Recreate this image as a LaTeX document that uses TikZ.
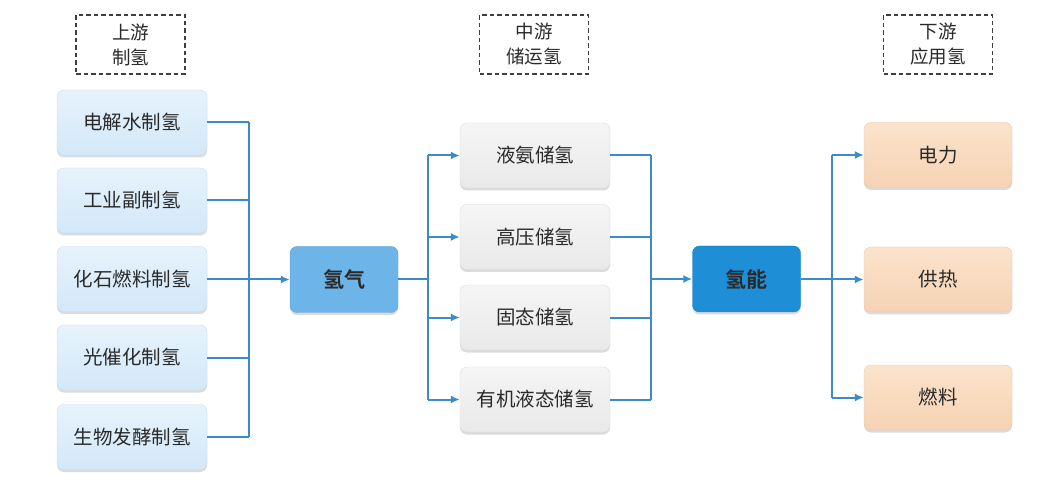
\documentclass[tikz,border=0pt]{standalone}
\usepackage{fontspec}
\setmainfont{Noto Sans CJK SC}
\newfontfamily\cjkbold{Noto Sans CJK SC Bold}
\usetikzlibrary{shadows,arrows.meta}
\definecolor{lineblue}{HTML}{3B8BC9}
\definecolor{txt}{HTML}{2A2A2A}
\definecolor{lbtop}{HTML}{E6F3FC}
\definecolor{lbbot}{HTML}{D3E8F8}
\definecolor{grtop}{HTML}{F5F5F5}
\definecolor{grbot}{HTML}{E9E9E9}
\definecolor{petop}{HTML}{FBE3CC}
\definecolor{pebot}{HTML}{F6D3B3}
\definecolor{midblue}{HTML}{6DB4E8}
\definecolor{deepblue}{HTML}{1E8ED6}
\tikzset{
  basebox/.style={rounded corners=7pt, minimum height=65pt, inner sep=0pt,
    text=txt, font=\fontsize{19.5}{22}\selectfont,
    drop shadow={shadow xshift=0pt, shadow yshift=-2.5pt, opacity=0.35, fill=gray!80}},
  srcbox/.style={basebox, minimum width=150pt, top color=lbtop, bottom color=lbbot, draw=lbbot!90!gray, line width=0.4pt},
  storebox/.style={basebox, minimum width=150pt, top color=grtop, bottom color=grbot, draw=grbot!90!gray, line width=0.4pt},
  usebox/.style={basebox, minimum width=148pt, top color=petop, bottom color=pebot, draw=pebot!90!gray, line width=0.4pt},
  hubbox/.style={basebox, minimum width=108pt, minimum height=66pt, font=\cjkbold\fontsize{21}{24}\selectfont},
  headbox/.style={draw=txt!90, dash pattern=on 4.5pt off 3pt, line width=1.5pt, minimum width=109pt, minimum height=59pt,
    inner sep=0pt, align=center, text=txt, font=\fontsize{18.5}{25}\selectfont},
  conn/.style={draw=lineblue, line width=2pt},
  arr/.style={conn, -{Latex[length=9pt,width=8pt]}},
}
\begin{document}
\begin{tikzpicture}[x=1pt,y=-1pt]
\useasboundingbox[fill=white] (0,0) rectangle (1060,486);

% headers
\node[headbox] (h1) at (130.5,44.5) {上游\\制氢};
\node[headbox] (h2) at (534,44.5) {中游\\储运氢};
\node[headbox] (h3) at (938,44.5) {下游\\应用氢};

% source boxes
\node[srcbox] (s1) at (132,122.5) {电解水制氢};
\node[srcbox] (s2) at (132,200.5) {工业副制氢};
\node[srcbox] (s3) at (132,279) {化石燃料制氢};
\node[srcbox] (s4) at (132,357.5) {光催化制氢};
\node[srcbox] (s5) at (132,437) {生物发酵制氢};

% hydrogen gas
\node[hubbox, fill=midblue, draw=midblue!90!black, line width=0.4pt] (gas) at (344,279.5) {氢气};

% storage boxes
\node[storebox] (t1) at (535,155.5) {液氨储氢};
\node[storebox] (t2) at (535,237) {高压储氢};
\node[storebox] (t3) at (535,317.5) {固态储氢};
\node[storebox] (t4) at (535,399.5) {有机液态储氢};

% hydrogen energy
\node[hubbox, fill=deepblue, draw=deepblue!90!black, line width=0.4pt] (en) at (746.5,279) {氢能};

% use boxes
\node[usebox] (u1) at (938,155) {电力};
\node[usebox] (u2) at (938,279.5) {供热};
\node[usebox] (u3) at (938,397.5) {燃料};

% bus coordinates
\coordinate (b1) at (249,0);
\coordinate (b2) at (428,0);
\coordinate (b3) at (651,0);
\coordinate (b4) at (832,0);

% left bus
\foreach \n in {s1,s2,s3,s4,s5} { \draw[conn] (\n.east) -- (\n.east -| b1); }
\draw[conn] (s1.east -| b1) -- (s5.east -| b1);
\draw[arr] (b1 |- gas.west) -- (gas.west);

% gas to storage
\draw[conn] (gas.east) -- (gas.east -| b2);
\draw[conn] (t1.west -| b2) -- (t4.west -| b2);
\foreach \n in {t1,t2,t3,t4} { \draw[arr] (\n.west -| b2) -- (\n.west); }

% storage to energy
\foreach \n in {t1,t2,t3,t4} { \draw[conn] (\n.east) -- (\n.east -| b3); }
\draw[conn] (t1.east -| b3) -- (t4.east -| b3);
\draw[arr] (b3 |- en.west) -- (en.west);

% energy to use
\draw[conn] (en.east) -- (en.east -| b4);
\draw[conn] (u1.west -| b4) -- (u3.west -| b4);
\foreach \n in {u1,u2,u3} { \draw[arr] (\n.west -| b4) -- (\n.west); }
\end{tikzpicture}
\end{document}
